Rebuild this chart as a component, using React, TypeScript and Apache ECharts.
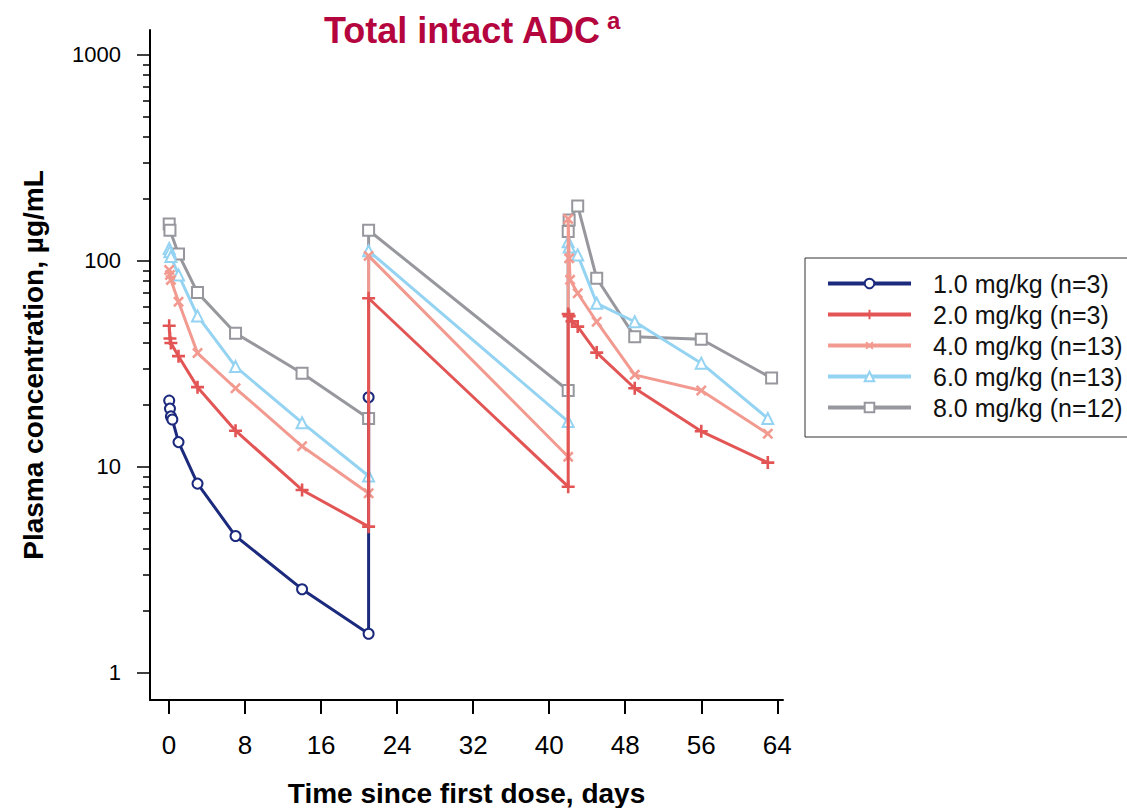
import React, { useEffect, useRef } from 'react';
import * as echarts from 'echarts';

const FONT = '"Liberation Sans", Arial, Helvetica, sans-serif';

const seriesNames = [
  '1.0 mg/kg (n=3)',
  '2.0 mg/kg (n=3)',
  '4.0 mg/kg (n=13)',
  '6.0 mg/kg (n=13)',
  '8.0 mg/kg (n=12)',
];
const seriesColors = ['#1c2a7d', '#e35555', '#f29a90', '#94d3f2', '#97979e'];

// time (days) and concentration (µg/mL)
const t10 = [0.02, 0.1, 0.2, 0.35, 1, 3, 7, 14, 21, 21];
const c10 = [21.0, 19.2, 17.6, 17.0, 13.2, 8.3, 4.62, 2.55, 1.55, 21.8];

const t20 = [0.02, 0.1, 0.2, 1, 3, 7, 14, 21, 21, 42, 42, 42.1, 42.4, 43, 45, 49, 56, 63];
const c20 = [48.5, 42, 40, 34.5, 24.4, 15.0, 7.73, 5.13, 65.9, 8.02, 55.3, 54, 50.9, 48, 35.9, 24.1, 14.9, 10.5];

const t40 = [0.02, 0.1, 0.2, 1, 3, 7, 14, 21, 21, 42, 42, 42.1, 42.2, 43, 45, 49, 56, 63];
const c40 = [90.4, 85.5, 80.9, 63.4, 35.7, 24.1, 12.6, 7.45, 105.8, 11.2, 160, 103, 81, 69.7, 50.7, 28.0, 23.5, 14.5];

const t60 = [0.02, 0.1, 0.2, 1, 3, 7, 14, 21, 21, 42, 42, 42.1, 43, 45, 49, 56, 63];
const c60 = [115, 111, 105, 85.5, 54.1, 30.7, 16.4, 9.04, 112, 16.6, 124, 117, 107, 62.3, 50.7, 31.9, 17.2];

const t80 = [0.02, 0.1, 1, 3, 7, 14, 21, 21, 42, 42, 42.1, 43, 45, 49, 56, 63.4];
const c80 = [151, 141, 108, 70.2, 44.6, 28.5, 17.2, 141, 23.5, 139, 158, 185, 82.4, 42.9, 41.7, 27];

const xTicks = [0, 8, 16, 24, 32, 40, 48, 56, 64];
const yMajor = [1, 10, 100, 1000];
const yMinor = [2, 3, 4, 5, 6, 7, 8, 9, 20, 30, 40, 50, 60, 70, 80, 90, 200, 300, 400, 500, 600, 700, 800, 900];

const PLUS = 'path://M4,0H6V4H10V6H6V10H4V6H0V4H4Z';

const times = [t10, t20, t40, t60, t80];
const concs = [c10, c20, c40, c60, c80];
const symbols = ['emptyCircle', PLUS, PLUS, 'emptyTriangle', 'emptyRect'];
const symbolSizes = [10, 13, 13, 11, 11];
const symbolRotates = [0, 0, 45, 0, 0];
const zs = [4, 5, 3, 2, 1];

function pairs(t: number[], c: number[]) {
  return t.map((x, i) => [x, c[i]]);
}

export default function App() {
  const ref = useRef<HTMLDivElement>(null);
  useEffect(() => {
    const chart = echarts.init(ref.current!, null, { renderer: 'svg' });
    const yMin = 0.739;
    const yMax = 1322;
    const option: any = {
      animation: false,
      backgroundColor: '#ffffff',
      title: {
        text: 'Total intact ADC',
        left: 324,
        top: 12,
        padding: 0,
        textStyle: { fontSize: 36, fontWeight: 'bold', color: '#b5053e', fontFamily: FONT },
      },
      graphic: [
        {
          type: 'text',
          left: 607,
          top: 8,
          style: { text: 'a', fontSize: 24, fontWeight: 'bold', fill: '#b5053e', fontFamily: FONT },
        },
      ],
      legend: {
        orient: 'vertical',
        left: 805,
        top: 258,
        data: seriesNames,
        borderColor: '#333',
        borderWidth: 1,
        padding: [13, 10, 17, 21],
        itemWidth: 83,
        itemHeight: 12,
        itemGap: 6,
        lineStyle: { width: 4 },
        formatter: '{a|{name}}',
        textStyle: {
          color: '#111',
          fontFamily: FONT,
          fontSize: 25,
          rich: { a: { fontSize: 25, fontFamily: FONT, color: '#111', padding: [0, 0, 0, 17] } },
        },
      },
      grid: { left: 150, right: 344, top: 30, bottom: 108, containLabel: false, outerBoundsMode: 'none' },
      xAxis: {
        type: 'value',
        min: -2,
        max: 64.6,
        name: 'Time since first dose, days',
        nameLocation: 'middle',
        nameGap: 79,
        nameTextStyle: { fontFamily: FONT, fontSize: 28, fontWeight: 'bold', color: '#000' },
        axisLine: { show: true, onZero: false, lineStyle: { color: '#000', width: 2 } },
        axisTick: { show: true, customValues: xTicks, length: 14, lineStyle: { color: '#000', width: 2 } },
        axisLabel: {
          customValues: xTicks,
          margin: 32,
          fontFamily: FONT,
          fontSize: 26,
          color: '#000',
          formatter: (v: number) => String(Math.round(v)),
        },
        splitLine: { show: false },
      },
      yAxis: [
        {
          type: 'log',
          logBase: 10,
          min: yMin,
          max: yMax,
          name: 'Plasma concentration, µg/mL',
          nameLocation: 'middle',
          nameRotate: 90,
          nameGap: 103,
          nameTextStyle: { fontFamily: FONT, fontSize: 28, fontWeight: 'bold', color: '#000' },
          axisLine: { show: true, onZero: false, lineStyle: { color: '#000', width: 2 } },
          axisTick: { show: true, customValues: yMajor, length: 13, lineStyle: { color: '#000', width: 1.5 } },
          axisLabel: {
            customValues: yMajor,
            margin: 29,
            fontFamily: FONT,
            fontSize: 22,
            color: '#000',
            formatter: (v: number) => String(Math.round(v)),
          },
          splitLine: { show: false },
          minorTick: { show: false },
        },
        {
          type: 'log',
          logBase: 10,
          min: yMin,
          max: yMax,
          position: 'left',
          offset: 0,
          axisLine: { show: false, onZero: false },
          axisTick: { show: true, customValues: yMinor, length: 7, lineStyle: { color: '#000', width: 1.5 } },
          axisLabel: { show: false },
          splitLine: { show: false },
        },
      ],
      series: seriesNames.map((name, i) => ({
        name,
        type: 'line',
        yAxisIndex: 0,
        data: pairs(times[i], concs[i]),
        z: zs[i],
        color: seriesColors[i],
        symbol: symbols[i],
        symbolSize: symbolSizes[i],
        symbolRotate: symbolRotates[i],
        showAllSymbol: true,
        lineStyle: { color: seriesColors[i], width: 3 },
        itemStyle: {
          color: seriesColors[i],
          borderColor: seriesColors[i],
          borderWidth: symbols[i] === PLUS ? 0 : 2,
        },
        emphasis: { disabled: true },
      })),
    };
    chart.setOption(option);
    return () => chart.dispose();
  }, []);
  return (
    <div
      ref={ref}
      style={{ position: 'fixed', left: 0, top: 0, width: 1127, height: 808, background: '#fff' }}
    />
  );
}
